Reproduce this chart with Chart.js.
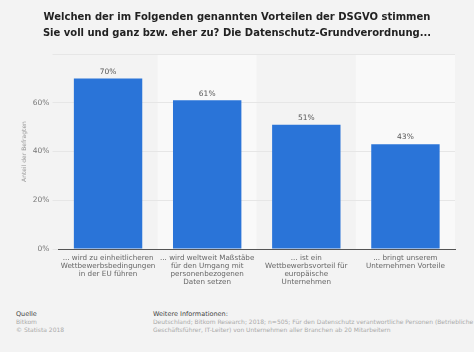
<!DOCTYPE html>
<html>
<head>
<meta charset="utf-8">
<script src="https://cdn.jsdelivr.net/npm/chart.js@4"></script>
<style>
  html, body { margin: 0; padding: 0; }
  body {
    width: 474px; height: 352px; overflow: hidden;
    background: #f3f3f3; font-family: "DejaVu Sans", sans-serif; position: relative;
  }
  #title {
    position: absolute; left: 0; top: 9px; width: 474px;
    text-align: center; font-weight: bold; font-size: 10px; line-height: 16px; color: #222;
  }
  #wrap { position: absolute; left: 0; top: 0; width: 474px; height: 306px; }
  .foot { position: absolute; top: 310px; font-size: 6px; line-height: 8px; color: #aaa; white-space: nowrap; }
  .foot .head { color: #444; font-size: 6.5px; }
  #src { left: 16px; }
  #info { left: 153px; }
</style>
</head>
<body>
<div id="wrap"><canvas id="chart"></canvas></div>
<div id="title">Welchen der im Folgenden genannten Vorteilen der DSGVO stimmen<br>Sie voll und ganz bzw. eher zu? Die Datenschutz-Grundverordnung...</div>
<div class="foot" id="src"><span class="head">Quelle</span><br>Bitkom<br>© Statista 2018</div>
<div class="foot" id="info"><span class="head">Weitere Informationen:</span><br>Deutschland; Bitkom Research; 2018; n=505; Für den Datenschutz verantwortliche Personen (Betriebliche Datenschutzbeauftragte,<br>Geschäftsführer, IT-Leiter) von Unternehmen aller Branchen ab 20 Mitarbeitern</div>
<script>
const categories = [
    ['... wird zu einheitlicheren', 'Wettbewerbsbedingungen', 'in der EU führen'],
    ['... wird weltweit Maßstäbe', 'für den Umgang mit', 'personenbezogenen', 'Daten setzen'],
    ['... ist ein', 'Wettbewerbsvorteil für', 'europäische', 'Unternehmen'],
    ['... bringt unserem', 'Unternehmen Vorteile']
];
const shares = [70, 61, 51, 43];
const yTicks = [0, 20, 40, 60, 80];

// alternating column bands behind the bars
const bandPlugin = {
    id: 'bands',
    beforeDraw(chart) {
        const ctx = chart.ctx;
        const area = chart.chartArea;
        const x = chart.scales.x;
        const step = x.getPixelForValue(1) - x.getPixelForValue(0);
        ctx.save();
        categories.forEach((c, i) => {
            ctx.fillStyle = i % 2 === 0 ? '#f3f3f3' : '#f9f9f9';
            const cx = x.getPixelForValue(i);
            ctx.fillRect(cx - step / 2, area.top, step, area.bottom - area.top);
        });
        ctx.restore();
    }
};

const valueLabels = {
    id: 'valueLabels',
    afterDatasetsDraw(chart) {
        const ctx = chart.ctx;
        const meta = chart.getDatasetMeta(0);
        ctx.save();
        ctx.font = '7.5px "DejaVu Sans"';
        ctx.fillStyle = '#555';
        ctx.textAlign = 'center';
        ctx.textBaseline = 'bottom';
        meta.data.forEach((bar, i) => {
            ctx.fillText(shares[i] + '%', bar.x, bar.y - 3);
        });
        ctx.restore();
    }
};

const ctx = document.getElementById('chart').getContext('2d');
new Chart(ctx, {
    type: 'bar',
    data: {
        labels: categories,
        datasets: [{
            data: shares,
            backgroundColor: '#2a74d8',
            barPercentage: 0.69,
            categoryPercentage: 1
        }]
    },
    options: {
        responsive: true,
        maintainAspectRatio: false,
        animation: false,
        layout: { padding: { top: 54, right: 19, left: 0, bottom: 0 } },
        plugins: {
            legend: { display: false },
            tooltip: { enabled: false }
        },
        scales: {
            x: {
                afterFit(scale) { scale.height = 57; },
                grid: { display: false, drawTicks: false },
                border: { display: true, color: '#555', width: 1 },
                ticks: {
                    color: '#666',
                    font: { family: 'DejaVu Sans', size: 7.2, lineHeight: 1.1 },
                    maxRotation: 0,
                    autoSkip: false,
                    padding: 5
                }
            },
            y: {
                min: 0,
                max: 80,
                afterFit(scale) { scale.width = 58.5; },
                afterBuildTicks(scale) { scale.ticks = yTicks.map(v => ({ value: v })); },
                border: { display: false },
                grid: { color: '#e6e6e6', tickLength: 6 },
                ticks: {
                    color: '#777',
                    font: { family: 'DejaVu Sans', size: 7.5 },
                    padding: 3,
                    callback: v => v === 80 ? '' : v + '%'
                },
                title: {
                    display: true,
                    text: 'Anteil der Befragten',
                    color: '#999',
                    font: { family: 'DejaVu Sans', size: 6 },
                    padding: { top: 21 }
                }
            }
        }
    },
    plugins: [bandPlugin, valueLabels]
});
</script>
</body>
</html>
